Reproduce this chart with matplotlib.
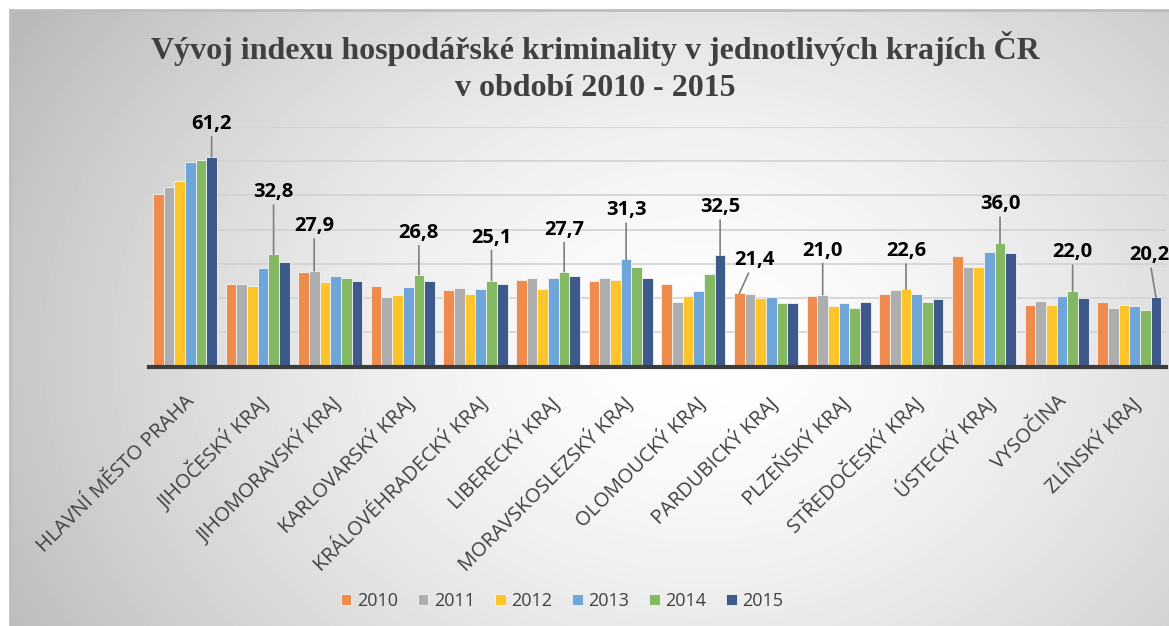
import matplotlib
matplotlib.use("Agg")
import matplotlib.pyplot as plt
import numpy as np

# data
regions = ["HLAVNÍ MĚSTO PRAHA", "JIHOČESKÝ KRAJ", "JIHOMORAVSKÝ KRAJ",
           "KARLOVARSKÝ KRAJ", "KRÁLOVÉHRADECKÝ KRAJ", "LIBERECKÝ KRAJ",
           "MORAVSKOSLEZSKÝ KRAJ", "OLOMOUCKÝ KRAJ", "PARDUBICKÝ KRAJ",
           "PLZEŇSKÝ KRAJ", "STŘEDOČESKÝ KRAJ", "ÚSTECKÝ KRAJ", "VYSOČINA",
           "ZLÍNSKÝ KRAJ"]
years = ["2010", "2011", "2012", "2013", "2014", "2015"]
y2010 = [50.3, 24.0, 27.5, 23.6, 22.3, 25.3, 25.0, 24.0, 21.4, 20.6, 21.3, 32.4, 18.0, 19.0]
y2011 = [52.5, 24.2, 27.9, 20.3, 22.9, 26.0, 25.8, 19.0, 21.1, 21.0, 22.4, 29.2, 19.2, 17.0]
y2012 = [54.2, 23.5, 24.8, 21.0, 21.2, 22.8, 25.2, 20.6, 20.0, 17.7, 22.6, 29.0, 18.1, 17.9]
y2013 = [59.8, 28.7, 26.4, 23.2, 22.6, 26.0, 31.3, 22.2, 20.2, 18.5, 21.1, 33.4, 20.6, 17.8]
y2014 = [60.2, 32.8, 25.8, 26.8, 25.1, 27.7, 29.1, 27.0, 18.5, 17.1, 19.0, 36.0, 22.0, 16.6]
y2015 = [61.2, 30.5, 25.1, 25.1, 24.2, 26.5, 25.8, 32.5, 18.6, 18.9, 19.7, 33.3, 20.0, 20.2]
series = [y2010, y2011, y2012, y2013, y2014, y2015]

# labelled bars: (region index, year index)
labelled = [(0, 5), (1, 4), (2, 1), (3, 4), (4, 4), (5, 4), (6, 3),
            (7, 5), (8, 0), (9, 1), (10, 2), (11, 4), (12, 4), (13, 5)]
# label offsets in pixels (dx, dy)
offsets = [(0, 33), (0, 62), (0, 45), (0, 42), (0, 43), (0, 42), (0, 49),
           (0, 48), (15, 33), (0, 44), (0, 38), (0, 39), (0, 39), (-7, 42)]

colors = ["#EF8C4D", "#AEAEAE", "#FEC52B", "#6EA6DA", "#84B862", "#3E5A8B"]

W, H = 1169, 626
fig = plt.figure(figsize=(W / 100, H / 100), dpi=100)
fig.patch.set_facecolor("white")

# gradient background of the chart frame
bg = fig.add_axes([10 / W, 0, 1 - 10 / W, 1 - 10 / H], zorder=0)
xx, yy = np.meshgrid(np.arange(10, W), np.arange(10, H))
d = np.sqrt(((xx - 700) / 650.0) ** 2 + ((yy - 350) / 500.0) ** 2)
shade = 1 - 0.2 * np.clip(d, 0, 1.3) ** 1.5
bg.imshow(shade, cmap="gray", vmin=0, vmax=1, aspect="auto", interpolation="bilinear")
bg.set_axis_off()
fig.add_artist(plt.Line2D([10 / W, 1], [1 - 10 / H, 1 - 10 / H], color="#bdbdbd", lw=2))
fig.add_artist(plt.Line2D([10 / W, 10 / W], [0, 1 - 10 / H], color="#bdbdbd", lw=2))

ax = fig.add_axes([148.6 / W, (H - 366.7) / H, (1165.6 - 148.6) / W, 240 / H], zorder=2)
ax.patch.set_alpha(0)

x = np.arange(len(regions))
bw = 0.147
for k, vals in enumerate(series):
    ax.bar(x + (k - 2.5) * bw, vals, bw, color=colors[k], edgecolor="#f4f4f4",
           linewidth=0.6, label=years[k], zorder=3)

ax.set_xlim(-0.5, len(regions) - 0.5)
ax.set_ylim(0, 70)
ax.set_yticks(np.arange(10, 71, 10))
ax.yaxis.grid(True, color="#d2d2d2", lw=1.2, zorder=0)
ax.set_yticklabels([])
ax.tick_params(axis="y", length=0)
for s in ["top", "right", "left"]:
    ax.spines[s].set_visible(False)
ax.spines["bottom"].set_color("#3c3c3c")
ax.spines["bottom"].set_linewidth(3)
ax.spines["bottom"].set_zorder(4)

ax.set_xticks(x)
ax.set_xticklabels(regions, rotation=45, ha="right", rotation_mode="anchor",
                   fontsize=14.5, color="#404040", family="Open Sans")
ax.tick_params(axis="x", length=0, pad=18)

for (i, k), (dx, dy) in zip(labelled, offsets):
    v = series[k][i]
    ax.annotate(f"{v:.1f}".replace(".", ","), xy=(i + (k - 2.5) * bw, v),
                xytext=(dx, dy), textcoords="offset pixels", ha="center", va="center",
                fontsize=14.5, fontweight="bold", family="Open Sans", color="black",
                annotation_clip=False, zorder=5,
                arrowprops=dict(arrowstyle="-", color="#7f7f7f", lw=1.2,
                                shrinkA=0, shrinkB=0))

fig.text(0.509, 1 - 48 / H, "Vývoj indexu hospodářské kriminality v jednotlivých krajích ČR",
         ha="center", va="center", fontsize=23, fontweight="bold",
         family="Liberation Serif", color="#404040")
fig.text(0.509, 1 - 88 / H, "v období 2010 - 2015",
         ha="center", va="center", fontsize=23, fontweight="bold",
         family="Liberation Serif", color="#404040")

leg = ax.legend(loc="center", bbox_to_anchor=(562 / W, 1 - 601 / H), bbox_transform=fig.transFigure,
                ncol=6, frameon=False, handlelength=0.6, handleheight=0.6,
                handletextpad=0.3, columnspacing=1.1, prop={"family": "Open Sans", "size": 13})
for t in leg.get_texts():
    t.set_color("#404040")

fig.savefig("out.png", dpi=100)
